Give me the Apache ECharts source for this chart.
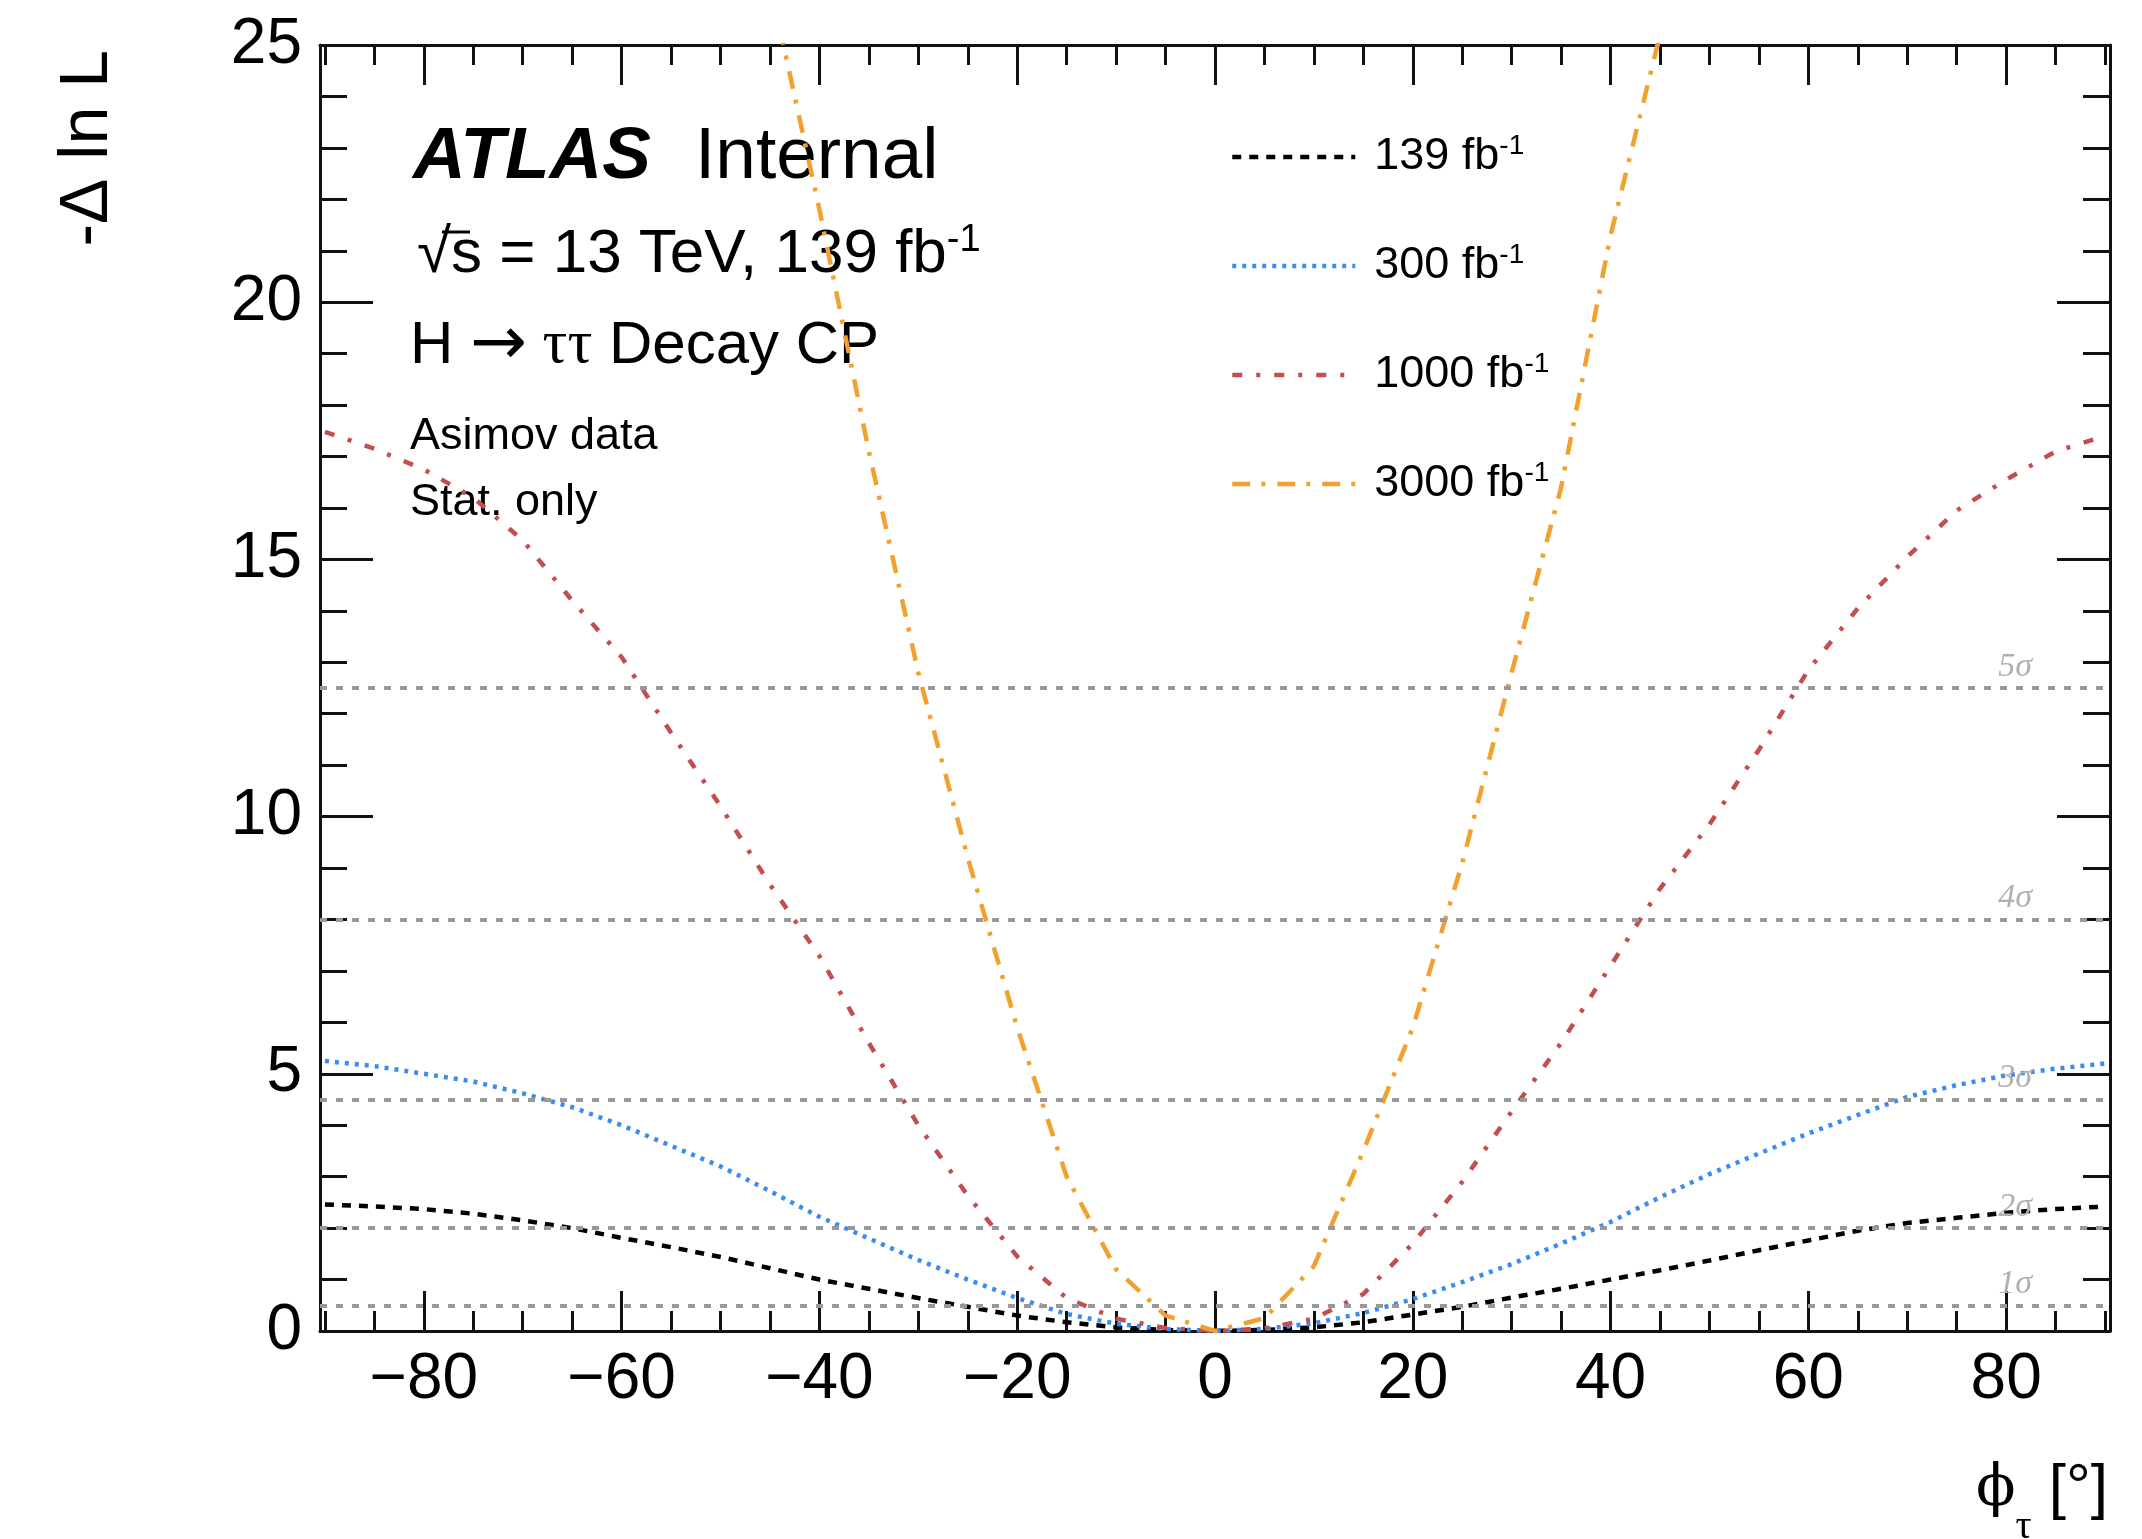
<!DOCTYPE html>
<html><head><meta charset="utf-8">
<script src="https://cdn.jsdelivr.net/npm/echarts@6/dist/echarts.min.js"></script>
<style>html,body{margin:0;padding:0;background:#fff}#c{width:2142px;height:1539px}</style>
</head><body><div id="c"></div><script>
// ---- data ----
const phi = [-90,-85,-80,-75,-70,-65,-60,-55,-50,-45,-40,-35,-30,-25,-20,-15,-10,-5,0,5,10,15,20,25,30,35,40,45,50,55,60,65,70,75,80,85,90];
const nll139 = [2.46,2.42,2.37,2.28,2.15,2.0,1.81,1.63,1.44,1.22,1.0,0.82,0.64,0.47,0.30,0.17,0.07,0.02,0,0.02,0.07,0.17,0.32,0.47,0.65,0.82,1.0,1.18,1.37,1.57,1.76,1.95,2.1,2.2,2.3,2.37,2.42];
const nll300 = [5.25,5.15,5.0,4.85,4.62,4.35,4.0,3.6,3.2,2.72,2.22,1.8,1.38,1.0,0.64,0.33,0.14,0.04,0,0.04,0.15,0.35,0.62,0.95,1.3,1.7,2.12,2.6,3.05,3.45,3.84,4.2,4.55,4.78,4.97,5.1,5.2];
const nll1000 = [17.48,17.15,16.75,16.2,15.37,14.2,13.1,11.63,10.2,8.68,7.29,5.6,4.0,2.63,1.45,0.64,0.24,0.06,0,0.05,0.24,0.72,1.7,2.9,4.27,5.6,7.1,8.6,9.85,11.3,12.85,14.05,15.05,15.95,16.55,17.1,17.4];
const phi3000 = [-45,-40,-35,-30,-25,-20,-15,-10,-5,0,5,10,15,20,25,30,35,40,45];
const nll3000 = [26.2,21.8,17.1,12.8,9.2,5.9,3.0,1.2,0.3,0,0.25,1.26,3.5,5.9,9.1,12.8,16.4,21.3,25.2];
const seriesNames = ['139 fb-1','300 fb-1','1000 fb-1','3000 fb-1'];
const sigmaLevels = [0.5, 2, 4.5, 8, 12.5];
const sigmaLabels = ['1\u03c3','2\u03c3','3\u03c3','4\u03c3','5\u03c3'];
const xMajorTicks = [-80,-60,-40,-20,0,20,40,60,80];
const xMinorTicks = [-90,-85,-80,-75,-70,-65,-60,-55,-50,-45,-40,-35,-30,-25,-20,-15,-10,-5,0,5,10,15,20,25,30,35,40,45,50,55,60,65,70,75,80,85,90];
const yMajorTicks = [0,5,10,15,20,25];
const yMinorTicks = [0,1,2,3,4,5,6,7,8,9,10,11,12,13,14,15,16,17,18,19,20,21,22,23,24,25];

// ---- styles ----
const F = '"Liberation Sans", Arial, Helvetica, sans-serif';
const SERIF = '"Liberation Serif", "Times New Roman", serif';
const AX = '#111';

function xAx(pos, major, showLine, showLabel) {
  return {
    type: 'value', position: pos, min: -90.5, max: 90.5, gridIndex: 0,
    splitLine: { show: false },
    axisLine: { show: showLine, onZero: false, lineStyle: { color: AX, width: 3 } },
    axisTick: { show: true, inside: true, length: major ? 40 : 20, customValues: major ? xMajorTicks : xMinorTicks, lineStyle: { color: AX, width: 3 } },
    axisLabel: { show: showLabel, customValues: xMajorTicks, fontSize: 64, fontFamily: F, color: '#000', margin: 17,
      formatter: v => v < 0 ? '\u2212' + Math.abs(v) : String(v) }
  };
}
function yAx(pos, major, showLine, showLabel) {
  return {
    type: 'value', position: pos, min: 0, max: 25, gridIndex: 0,
    splitLine: { show: false },
    axisLine: { show: showLine, onZero: false, lineStyle: { color: AX, width: 3 } },
    axisTick: { show: true, inside: true, length: major ? 53 : 27, customValues: major ? yMajorTicks : yMinorTicks, lineStyle: { color: AX, width: 3 } },
    axisLabel: { show: showLabel, customValues: yMajorTicks, fontSize: 64, fontFamily: F, color: '#000', margin: 18 }
  };
}

function curve(name, xs, ys, color, dash) {
  return {
    type: 'line', name: name, xAxisIndex: 0, yAxisIndex: 0,
    data: xs.map((x, i) => [x, ys[i]]),
    symbol: 'none', smooth: false, clip: true, z: 3,
    lineStyle: { color: color, width: 4.5, type: dash },
    itemStyle: { color: color }
  };
}

const chart = echarts.init(document.getElementById('c'), null, { renderer: 'canvas' });
chart.setOption({
  animation: false,
  backgroundColor: '#ffffff',
  grid: { left: 320, top: 45, width: 1790, height: 1286, show: false },
  xAxis: [ xAx('bottom', true, true, true), xAx('bottom', false, false, false), xAx('top', true, true, false), xAx('top', false, false, false) ],
  yAxis: [ yAx('left', true, true, true), yAx('left', false, false, false), yAx('right', true, true, false), yAx('right', false, false, false) ],
  legend: {
    data: seriesNames, orient: 'vertical', left: 1225, top: 127,
    itemWidth: 123, itemHeight: 20, itemGap: 59, selectedMode: false,
    lineStyle: { width: 4.5 },
    itemStyle: { opacity: 0 },
    textStyle: { fontFamily: F, fontSize: 45, color: '#000', lineHeight: 50, padding: [0, 0, 0, 14],
      rich: {
        a: { fontFamily: F, fontSize: 45, color: '#000', lineHeight: 50 },
        s: { fontFamily: F, fontSize: 28, color: '#000', lineHeight: 28, verticalAlign: 'top' }
      } },
    formatter: n => '{a|' + n.replace(' fb-1', ' fb') + '}{s|-1}'
  },
  series: [
    { type: 'line', name: 'sigma', data: [], z: 1,
      markLine: { silent: true, symbol: 'none', animation: false,
        lineStyle: { color: '#999999', width: 4, type: [7, 9] },
        label: { position: 'insideEndTop', distance: [78, 4], color: '#b0b0b0', fontStyle: 'italic', fontFamily: SERIF, fontSize: 34 },
        data: sigmaLevels.map((v, i) => ({ yAxis: v, label: { formatter: sigmaLabels[i] } })) } },
    curve(seriesNames[0], phi, nll139, '#000000', [9, 8]),
    curve(seriesNames[1], phi, nll300, '#3b8cf2', [4, 6]),
    curve(seriesNames[2], phi, nll1000, '#c44e4e', [10, 14, 4, 14]),
    curve(seriesNames[3], phi3000, nll3000, '#f2a12e', [18, 11, 4, 12])
  ],
  graphic: [
    { type: 'text', x: 413, y: 158, style: { text: 'ATLAS', font: 'italic bold 73px ' + F, fill: '#000', align: 'left', verticalAlign: 'middle' } },
    { type: 'text', x: 695, y: 158, style: { text: 'Internal', font: '73px ' + F, fill: '#000', align: 'left', verticalAlign: 'middle' } },
    { type: 'text', x: 417, y: 255, style: { text: '{a|\u221as = 13 TeV, 139 fb}{s|-1}', fill: '#000', align: 'left', verticalAlign: 'middle',
        rich: { a: { fontFamily: F, fontSize: 62, lineHeight: 66 }, s: { fontFamily: F, fontSize: 38, lineHeight: 38, verticalAlign: 'top' } } } },
    { type: 'line', shape: { x1: 442, y1: 232, x2: 470, y2: 232 }, style: { stroke: '#000', lineWidth: 3 } },
    { type: 'text', x: 410, y: 346, style: { text: '{a|H }{r|\u2192}{t| \u03c4\u03c4}{a| Decay CP}', fill: '#000', align: 'left', verticalAlign: 'middle',
        rich: { a: { fontFamily: F, fontSize: 60, lineHeight: 66 }, r: { fontFamily: '"DejaVu Sans", sans-serif', fontSize: 68, lineHeight: 66 }, t: { fontFamily: SERIF, fontSize: 62, lineHeight: 66 } } } },
    { type: 'text', x: 410, y: 437, style: { text: 'Asimov data', font: '45px ' + F, fill: '#000', align: 'left', verticalAlign: 'middle' } },
    { type: 'text', x: 410, y: 503, style: { text: 'Stat. only', font: '45px ' + F, fill: '#000', align: 'left', verticalAlign: 'middle' } },
    { type: 'text', x: 88, y: 50, rotation: Math.PI / 2, style: { text: '-\u0394 ln L', font: '68px ' + F, fill: '#000', align: 'right', verticalAlign: 'middle' } },
    { type: 'text', x: 2108, y: 1490, style: { text: '{p|\u03d5}{t|\u03c4}{b| [\u00b0]}', fill: '#000', align: 'right', verticalAlign: 'middle',
        rich: { p: { fontFamily: '"DejaVu Serif", serif', fontSize: 58, lineHeight: 70 }, t: { fontFamily: SERIF, fontSize: 40, lineHeight: 40, verticalAlign: 'bottom', padding: [0, 0, -22, 0] }, b: { fontFamily: F, fontSize: 62, lineHeight: 70 } } } }
  ]
});
</script></body></html>
